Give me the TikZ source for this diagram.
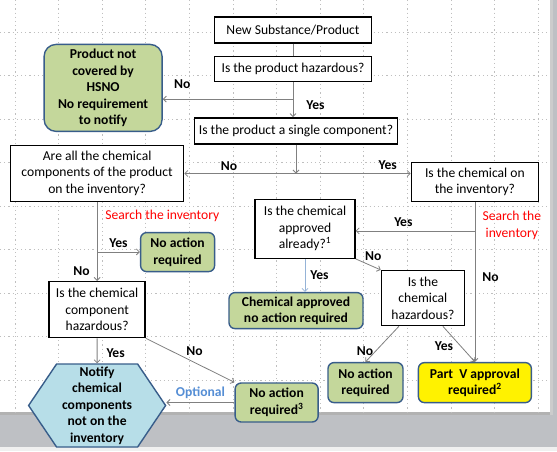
\documentclass[tikz,border=0pt]{standalone}
\usepackage{fontspec}
\setmainfont{Carlito}
\usepackage{xcolor}
\usetikzlibrary{arrows.meta,positioning,shapes.symbols}

\definecolor{boxgreen}{HTML}{C4D79B}
\definecolor{boxblue}{HTML}{B7DEE8}
\definecolor{edgeblue}{HTML}{385D8A}
\definecolor{linegray}{HTML}{808080}
\definecolor{optblue}{HTML}{558ED5}
\definecolor{paleblue}{HTML}{95B3D7}
\definecolor{slidegray}{HTML}{BEC0C4}
\definecolor{gridgray}{HTML}{BFBFBF}

\newcommand{\boxfont}{\fontsize{13.6}{16.5}\selectfont}

\tikzset{
  every node/.style={font=\boxfont},
  qbox/.style={draw=black, line width=1.4pt, fill=white, align=center, inner sep=1pt},
  endbox/.style={draw=edgeblue, line width=1.4pt, fill=boxgreen, rounded corners=6pt,
    align=center, font=\boxfont\bfseries, inner sep=1pt},
  hexbox/.style={signal, signal to=west and east, signal pointer angle=112, draw=edgeblue,
    line width=1.4pt, fill=boxblue, align=center, font=\boxfont\bfseries, inner sep=0pt},
  lbl/.style={font=\boxfont\bfseries, inner sep=1pt},
  search/.style={text=red, align=center, inner sep=1pt},
  conn/.style={draw=linegray, line width=0.8pt},
}

\begin{document}
\begin{tikzpicture}[x=1pt, y=-1pt, >={Straight Barb[length=3pt,width=6pt]}]
  \useasboundingbox (0,0) rectangle (557,451);
  % slide and grid
  \fill[slidegray] (0,0) rectangle (557,451);
  \fill[gray!60] (0,412) rectangle (553,415);
  \fill[gray!40] (550,0) rectangle (553,415);
  \fill[gray!12] (0,447) rectangle (557,451);
  \fill[white] (0,0) rectangle (550,412);
  \foreach \gx in {0,...,12}
    \draw[gridgray, line width=0.9pt, dash pattern=on 1.2pt off 3pt] ({15+43.6*\gx},0) -- ({15+43.6*\gx},412);
  \foreach \gy in {0,...,8}
    \draw[gridgray, line width=0.9pt, dash pattern=on 1.2pt off 3pt] (0,{32+43.5*\gy}) -- (550,{32+43.5*\gy});

  \node[qbox, minimum width=157pt, minimum height=26pt] (start) at (293,30) {New Substance/Product};
  \node[qbox, minimum width=157pt, minimum height=25pt, below=12pt of start] (haz) {Is the product hazardous?};
  \node[qbox, minimum width=203pt, minimum height=26pt, below=35pt of haz, xshift=3pt] (single) {Is the product a single component?};
  \node[endbox, rounded corners=12pt, minimum width=118pt, minimum height=87pt, left=51pt of haz, yshift=-19pt] (nohsno) {Product not\\covered by\\HSNO\\No requirement\\to notify};
  \node[qbox, minimum width=173pt, minimum height=56pt, below left=0pt and 9.5pt of single] (allinv) {Are all the chemical\\components of the product\\on the inventory?};
  \node[qbox, minimum width=127pt, minimum height=39pt, below right=17pt and 12.5pt of single] (chemon) {Is the chemical on\\the inventory?};
  \node[endbox, minimum width=74pt, minimum height=39pt, below=30pt of allinv, xshift=80.5pt] (noact1) {No action\\required};
  \node[qbox, minimum width=100pt, minimum height=59pt, left=55pt of chemon, yshift=-47pt] (approved) {Is the chemical\\approved\\already?\textsuperscript{1}};
  \node[qbox, minimum width=96pt, minimum height=56pt, below=79pt of allinv] (comphaz) {Is the chemical\\component\\hazardous?};
  \node[endbox, minimum width=134pt, minimum height=36pt, below=33pt of approved, xshift=-9pt] (chemappr) {Chemical approved\\no action required};
  \node[qbox, minimum width=83pt, minimum height=55pt, below right=11pt and 25pt of approved] (chemhaz) {Is the\\chemical\\hazardous?};
  \node[endbox, fill=yellow, minimum width=113pt, minimum height=40pt, below=160pt of chemon] (partv) {Part~ V approval\\required\textsuperscript{2}};
  \node[endbox, minimum width=75pt, minimum height=40pt, left=14pt of partv] (noact2) {No action\\required};
  \node[hexbox, minimum width=137pt, minimum height=83pt, below=25pt of comphaz] (notify) {Notify\\chemical\\components\\not on the\\inventory};
  \node[endbox, minimum width=83pt, minimum height=39pt, right=68pt of notify, yshift=3pt] (noact3) {No action\\required\textsuperscript{3}};

  \coordinate (hazsplit) at ([yshift=-17pt]haz.south);
  \coordinate (split) at ([yshift=-29pt]single.south);
  \coordinate (allsplit) at ([yshift=-50pt]allinv.south);
  \coordinate (chemsplit) at ([yshift=-29pt]chemon.south);

  \draw[conn] (start) -- (haz);
  \draw[conn,->] (haz) -- (haz |- single.north) node[lbl, pos=0.65, right=12pt] {Yes};
  \draw[conn,->] (hazsplit) -- (hazsplit -| nohsno.east) node[lbl, pos=0.85, above=9pt] {No};
  \draw[conn,->] (single) -- (split);
  \draw[conn,->] (split) -- (split -| allinv.east) node[lbl, pos=0.6, above=2pt] {No};
  \draw[conn,->] (split) -- (split -| chemon.west) node[lbl, pos=0.8, above=3pt] {Yes};
  \draw[conn,->] (allinv) -- (allinv |- comphaz.north) node[lbl, pos=0.88, left=6pt] {No};
  \draw[conn,->] (allsplit) -- (allsplit -| noact1.west) node[lbl, pos=0.5, above=3pt] {Yes};
  \node[search, below right=7pt and 7pt of allinv.south] (srch1) {Search the inventory};
  \draw[conn,->] (chemon) -- (partv) node[lbl, pos=0.47, right=6pt] {No};
  \draw[conn,->] (chemsplit) -- (chemsplit -| approved.east) node[lbl, pos=0.6, above=3pt] {Yes};
  \node[search, below right=8pt and 6.5pt of chemon.south] (srch2) {Search the\\inventory};
  \draw[->, draw=paleblue, line width=0.8pt] (approved) -- (approved |- chemappr.north) node[lbl, pos=0.5, right=4pt] {Yes};
  \draw[conn,->] (approved.south east) -- (chemhaz.north west) node[lbl, pos=0.7, above=5pt] {No};
  \draw[conn,->] (comphaz) -- (notify) node[lbl, pos=0.6, right=8pt] {Yes};
  \draw[conn,->] (comphaz.south east) -- (noact3.north west) node[lbl, pos=0.55, above=6pt] {No};
  \draw[conn,->] (noact3.west) -- (noact3.west -| notify.east) node[lbl, pos=0.5, above=2pt, text=optblue] {Optional};
  \draw[conn,->] ([xshift=-24pt]chemhaz.south) -- (noact2.north) node[lbl, pos=0.7, left=1pt] {No};
  \draw[conn,->] ([xshift=20pt]chemhaz.south) -- (partv.north) node[lbl, pos=0.55, left=6pt] {Yes};
\end{tikzpicture}
\end{document}
